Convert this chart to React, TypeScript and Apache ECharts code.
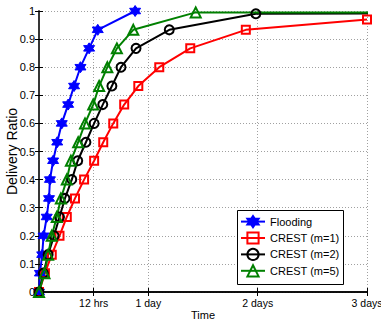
import React, { useEffect, useRef } from "react";
import * as echarts from "echarts";

const xTickValues = [12, 24, 48, 72];
const xTickLabels = ["12 hrs", "1 day", "2 days", "3 days"];

const floodHours = [0, 0.2, 0.7, 1.0, 1.7, 2.2, 2.4, 3.1, 4.0, 5.0, 6.4, 7.7, 9.1, 11.0, 12.9, 21.1];
const floodRatio = [0, 0.067, 0.133, 0.2, 0.267, 0.333, 0.4, 0.467, 0.533, 0.6, 0.667, 0.733, 0.8, 0.867, 0.933, 1.0];

const crest1Hours = [0, 1.3, 2.8, 4.5, 6.1, 7.9, 9.9, 12.1, 14.1, 16.3, 18.7, 21.8, 26.4, 33.2, 45.4, 72];
const crest1Ratio = [0, 0.067, 0.133, 0.2, 0.267, 0.333, 0.4, 0.467, 0.533, 0.6, 0.667, 0.733, 0.8, 0.867, 0.933, 0.97];

const crest2Hours = [0, 0.95, 2.0, 3.3, 4.5, 5.7, 7.2, 8.5, 10.3, 12.1, 14.0, 16.0, 18.0, 21.3, 28.6, 47.6, 96];
const crest2Ratio = [0, 0.067, 0.133, 0.2, 0.267, 0.333, 0.4, 0.467, 0.533, 0.6, 0.667, 0.733, 0.8, 0.867, 0.933, 0.99, 0.993];

const crest5Hours = [0, 1.2, 2.0, 2.8, 3.9, 4.8, 6.1, 7.0, 8.6, 10.1, 11.9, 13.2, 15.0, 17.1, 20.7, 34.4, 96];
const crest5Ratio = [0, 0.067, 0.133, 0.2, 0.267, 0.333, 0.4, 0.467, 0.533, 0.6, 0.667, 0.733, 0.8, 0.867, 0.933, 0.995, 0.995];

const seriesNames = ["Flooding", "CREST (m=1)", "CREST (m=2)", "CREST (m=5)"];

const HEX =
  "path://M0,-10L2.887,-5L8.66,-5L5.774,0L8.66,5L2.887,5L0,10L-2.887,5L-8.66,5L-5.774,0L-8.66,-5L-2.887,-5Z";

const FONT = "Liberation Sans";

function zip(xs: number[], ys: number[]) {
  return xs.map((x, i) => [x, ys[i]]);
}

export default function App() {
  const ref = useRef<HTMLDivElement>(null);
  useEffect(() => {
    if (!ref.current) return;
    const chart = echarts.init(ref.current, undefined, { renderer: "svg" });
    const gridLine = { show: true, lineStyle: { color: "#a0a0a0", type: [1, 2] as any, width: 1 } };
    const mk = (name: string, color: string, data: number[][], symbol: string, size: number, filled: boolean) => ({
      name,
      type: "line",
      data,
      symbol,
      symbolSize: size,
      color,
      clip: true,
      lineStyle: { color, width: 2 },
      itemStyle: filled
        ? { color, borderColor: color, borderWidth: 1 }
        : { color: "rgba(255,255,255,0)", borderColor: color, borderWidth: 2 },
      emphasis: { disabled: true },
      z: 2,
    });
    chart.setOption({
      animation: false,
      backgroundColor: "#fff",
      textStyle: { fontFamily: FONT },
      grid: { left: 39, right: 14, top: 11, bottom: 28, containLabel: false, outerBoundsMode: "none" },
      graphic: [
        {
          type: "rect",
          left: 237,
          top: 210,
          z: 3,
          shape: { width: 106, height: 74 },
          style: { fill: "#fff", stroke: "#000", lineWidth: 1 },
        },
      ],
      legend: {
        orient: "vertical",
        left: 236,
        top: 210,
        padding: [5, 4, 4, 4],
        itemGap: 3.2,
        itemWidth: 24,
        itemHeight: 14,
        borderWidth: 0,
        backgroundColor: "rgba(0,0,0,0)",
        z: 5,
        textStyle: { fontFamily: FONT, fontSize: 11, color: "#000" },
        data: seriesNames,
      },
      xAxis: [
        {
          type: "value",
          min: 0,
          max: 72,
          position: "bottom",
          name: "Time",
          nameLocation: "middle",
          nameGap: 17,
          nameMoveOverlap: false,
          nameTextStyle: { fontFamily: FONT, fontSize: 11, color: "#000" },
          axisLine: { show: true, lineStyle: { color: "#000", width: 1.5 } },
          axisTick: { show: true, inside: true, length: 4, customValues: xTickValues, lineStyle: { color: "#000" } },
          axisLabel: {
            fontFamily: FONT,
            fontSize: 10.5,
            color: "#000",
            margin: 5,
            customValues: xTickValues,
            formatter: (v: number) => {
              const i = xTickValues.indexOf(v);
              return i >= 0 ? xTickLabels[i] : "";
            },
          },
          splitLine: gridLine,
        },
        {
          type: "value",
          min: 0,
          max: 72,
          position: "top",
          axisLine: { show: true, lineStyle: { color: "#000", width: 1.5 } },
          axisTick: { show: true, inside: true, length: 4, customValues: xTickValues, lineStyle: { color: "#000" } },
          axisLabel: { show: false },
          splitLine: { show: false },
        },
      ],
      yAxis: [
        {
          type: "value",
          min: 0,
          max: 1,
          interval: 0.1,
          position: "left",
          name: "Delivery Ratio",
          nameLocation: "middle",
          nameGap: 20,
          nameMoveOverlap: false,
          nameTextStyle: { fontFamily: FONT, fontSize: 14, color: "#000" },
          axisLine: { show: true, lineStyle: { color: "#000", width: 1.5 } },
          axisTick: { show: true, inside: true, length: 4, lineStyle: { color: "#000" } },
          axisLabel: { fontFamily: FONT, fontSize: 11, color: "#000", margin: 4 },
          splitLine: gridLine,
        },
        {
          type: "value",
          min: 0,
          max: 1,
          interval: 0.1,
          position: "right",
          axisLine: { show: true, lineStyle: { color: "#333", width: 1.5 } },
          axisTick: { show: true, inside: true, length: 4, lineStyle: { color: "#000" } },
          axisLabel: { show: false },
          splitLine: { show: false },
        },
      ],
      series: [
        mk(seriesNames[0], "#0000ff", zip(floodHours, floodRatio), HEX, 11, true),
        mk(seriesNames[1], "#ff0000", zip(crest1Hours, crest1Ratio), "rect", 8, false),
        mk(seriesNames[2], "#000000", zip(crest2Hours, crest2Ratio), "circle", 9, false),
        mk(seriesNames[3], "#008000", zip(crest5Hours, crest5Ratio), "triangle", 10, false),
      ],
    });
    return () => chart.dispose();
  }, []);
  return <div ref={ref} style={{ width: 381, height: 320, position: "absolute", left: 0, top: 0 }} />;
}
